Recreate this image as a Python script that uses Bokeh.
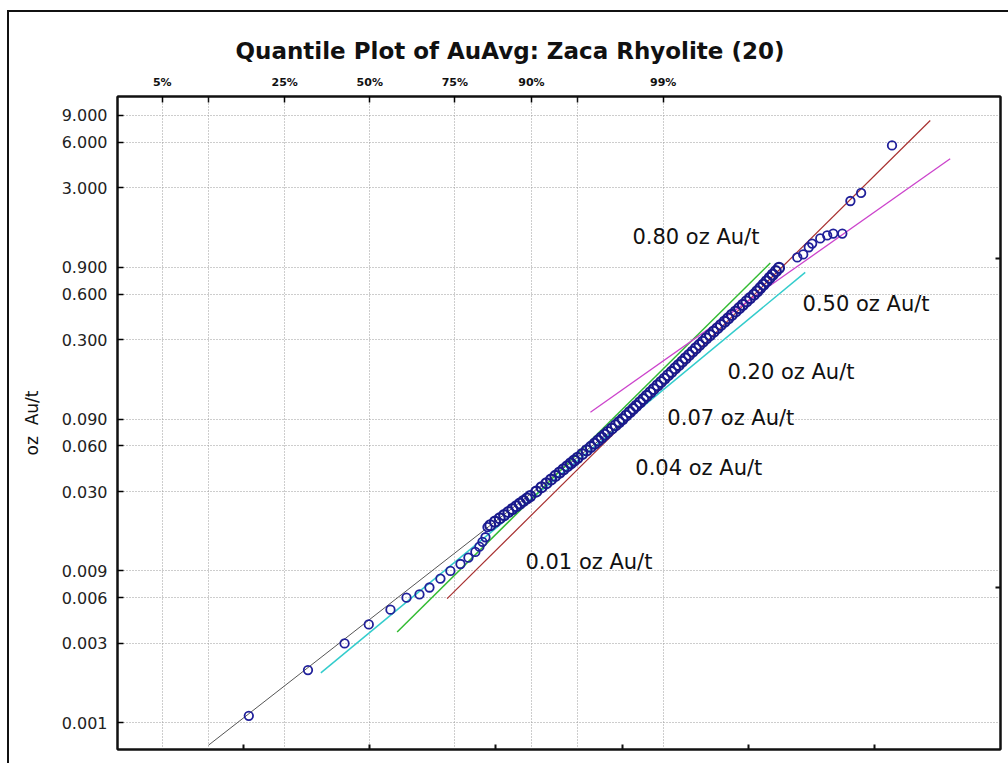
from bokeh.plotting import figure
from bokeh.models import LinearAxis, LogAxis, FixedTicker, Range1d, Title
from bokeh.embed import file_html
from bokeh.resources import INLINE
from bokeh.core.properties import value

title_text = "Quantile Plot of AuAvg: Zaca Rhyolite (20)"
y_label = "oz\u00a0\u00a0Au/t"

pct_z_lab = [-1.6449, -0.6745, 0.0, 0.6745, 1.2816, 2.3263]
pct_labels = ["5%", "25%", "50%", "75%", "90%", "99%"]
pct_z_unlab = [-1.2816, 1.6449]
pct_z_all = [-1.6449, -1.2816, -0.6745, 0.0, 0.6745, 1.2816, 1.6449, 2.3263]

y_ticks = [9, 6, 3, 0.9, 0.6, 0.3, 0.09, 0.06, 0.03, 0.009, 0.006, 0.003, 0.0009]
y_tick_labels = ["9.000", "6.000", "3.000", "0.900", "0.600", "0.300", "0.090",
                 "0.060", "0.030", "0.009", "0.006", "0.003", "0.001"]
bottom_ticks = [-1, 0, 1, 2, 3, 4]
right_ticks = [1.03, 0.0070]

# sample quantiles: normal score (z) and gold grade (oz Au/t)
low_z = [-0.959, -0.490, -0.200, -0.008, 0.164, 0.291, 0.394, 0.473, 0.560, 0.639,
         0.719, 0.782, 0.837, 0.869, 0.893, 0.917, 0.933]
low_au = [0.001, 0.002, 0.003, 0.004, 0.005, 0.006, 0.0063, 0.007, 0.008, 0.009,
          0.010, 0.011, 0.012, 0.013, 0.014, 0.015, 0.0175]
band_z = [0.955, 0.993, 1.030, 1.065, 1.099, 1.130, 1.161, 1.190, 1.218, 1.246, 1.272,
          1.320, 1.361, 1.400, 1.437, 1.471, 1.504, 1.535, 1.565, 1.593, 1.620, 1.647,
          1.684, 1.719, 1.752, 1.782, 1.810, 1.837, 1.863, 1.887, 1.919, 1.949, 1.977,
          2.004, 2.033, 2.061, 2.088, 2.113, 2.142, 2.169, 2.195, 2.224, 2.251, 2.281,
          2.309, 2.336, 2.364, 2.392, 2.420, 2.448, 2.476, 2.503, 2.531, 2.558, 2.585,
          2.613, 2.640, 2.667, 2.697, 2.726, 2.755, 2.783, 2.813, 2.841, 2.870, 2.900,
          2.928, 2.957, 2.986, 3.015, 3.045, 3.071, 3.096, 3.121, 3.145, 3.170, 3.194,
          3.219, 3.244]
band_au = [0.018, 0.019, 0.020, 0.021, 0.022, 0.023, 0.024, 0.025, 0.026, 0.027, 0.028,
           0.030, 0.032, 0.034, 0.036, 0.038, 0.040, 0.042, 0.044, 0.046, 0.048, 0.050,
           0.053, 0.056, 0.059, 0.062, 0.065, 0.068, 0.071, 0.074, 0.078, 0.082, 0.086,
           0.090, 0.095, 0.100, 0.105, 0.110, 0.116, 0.122, 0.128, 0.135, 0.142, 0.150,
           0.158, 0.166, 0.175, 0.184, 0.194, 0.204, 0.215, 0.226, 0.238, 0.250, 0.263,
           0.277, 0.291, 0.306, 0.322, 0.339, 0.357, 0.375, 0.395, 0.415, 0.437, 0.460,
           0.484, 0.509, 0.536, 0.564, 0.594, 0.625, 0.658, 0.692, 0.728, 0.766, 0.806,
           0.848, 0.892]
high_z = [3.389, 3.436, 3.480, 3.507, 3.571, 3.626, 3.674, 3.746, 3.81, 3.895, 4.14]
high_au = [1.046, 1.094, 1.22, 1.29, 1.394, 1.46, 1.50, 1.50, 2.46, 2.78, 5.71]

# fitted population lines (end points)
gray_z = [-1.278, 2.002]
gray_au = [0.000641, 0.0857]
red_z = [0.613, 4.443]
red_au = [0.00592, 8.34]
green_z = [0.217, 3.175]
green_au = [0.00357, 0.96]
cyan_z = [-0.388, 3.452]
cyan_au = [0.00192, 0.833]
mag_z = [1.749, 4.601]
mag_au = [0.1, 4.67]

ann_text = ["0.80 oz Au/t", "0.50 oz Au/t", "0.20 oz Au/t", "0.07 oz Au/t", "0.04 oz Au/t", "0.01 oz Au/t"]
ann_z = [2.082, 3.431, 2.836, 2.359, 2.105, 1.234]
ann_au = [1.416, 0.5128, 0.1829, 0.0911, 0.0427, 0.01027]

ink = "#111111"

frame_styles = {
    "background-color": "white",
    "background-image": "linear-gradient(#111111, #111111), linear-gradient(#111111, #111111)",
    "background-position": "7px 10px, 7px 10px",
    "background-size": "2px 100%, 100% 2px",
    "background-repeat": "no-repeat",
}

p = figure(width=1008, height=763, x_range=Range1d(-2, 5), y_range=Range1d(0.0006, 12),
           y_axis_type="log", output_backend="svg", toolbar_location=None,
           min_border_left=117, min_border_right=8, min_border_top=96, min_border_bottom=14,
           styles=frame_styles)
p.background_fill_color = "white"
p.border_fill_color = None
p.outline_line_color = ink
p.outline_line_width = 2

p.title = Title(text=title_text, align="left", offset=118, standoff=17,
                text_font="DejaVu Sans", text_font_style="bold", text_font_size="23px",
                text_color=ink)

grid_color = "#9a9a9a"
p.xgrid.ticker = FixedTicker(ticks=pct_z_all)
p.ygrid.ticker = FixedTicker(ticks=y_ticks)
for g in (p.xgrid[0], p.ygrid[0]):
    g.grid_line_color = grid_color
    g.grid_line_dash = "1 2"
    g.grid_line_width = 1

def tick_only(ax, minor):
    ax.ticker = FixedTicker(ticks=[], minor_ticks=minor)
    ax.major_label_text_font_size = "1px"
    ax.major_label_text_color = None
    ax.major_label_standoff = 0
    ax.major_tick_line_color = None
    ax.minor_tick_in = 5
    ax.minor_tick_out = 0
    ax.minor_tick_line_width = 2
    ax.minor_tick_line_color = ink
    ax.axis_line_width = 2
    ax.axis_line_color = ink

tick_only(p.xaxis[0], bottom_ticks)

ya = p.yaxis[0]
ya.ticker = FixedTicker(ticks=y_ticks)
ya.major_label_overrides = {t: s for t, s in zip(y_ticks, y_tick_labels)}
ya.major_label_text_font = "DejaVu Sans"
ya.major_label_text_font_size = "16px"
ya.major_label_text_color = "#222222"
ya.major_label_standoff = 10
ya.major_tick_in = 6
ya.major_tick_out = 0
ya.major_tick_line_width = 1.5
ya.minor_tick_line_color = None
ya.axis_line_width = 2
ya.axis_line_color = ink
ya.axis_label = y_label
ya.axis_label_text_font = "DejaVu Sans"
ya.axis_label_text_font_size = "17px"
ya.axis_label_text_font_style = "normal"
ya.axis_label_text_color = ink
ya.axis_label_standoff = 17

ta = LinearAxis(ticker=FixedTicker(ticks=pct_z_lab, minor_ticks=pct_z_unlab))
ta.major_label_overrides = {z: s for z, s in zip(pct_z_lab, pct_labels)}
ta.major_label_text_font = "DejaVu Sans"
ta.major_label_text_font_style = "bold"
ta.major_label_text_font_size = "11px"
ta.major_label_text_color = ink
ta.major_label_standoff = 8
ta.major_tick_in = 6
ta.major_tick_out = 0
ta.major_tick_line_width = 1.5
ta.minor_tick_in = 6
ta.minor_tick_out = 0
ta.minor_tick_line_width = 1.5
ta.minor_tick_line_color = ink
ta.axis_line_width = 2
ta.axis_line_color = ink
p.add_layout(ta, "above")

ra = LogAxis()
tick_only(ra, right_ticks)
p.add_layout(ra, "right")

p.line(gray_z, gray_au, line_color="#555555", line_width=1)
p.line(cyan_z, cyan_au, line_color="#33cccc", line_width=1.5)
p.line(green_z, green_au, line_color="#33bb33", line_width=1.5)
p.line(red_z, red_au, line_color="#a83030", line_width=1.2)
p.line(mag_z, mag_au, line_color="#cc44cc", line_width=1.3)

pt_style = dict(marker="circle", size=8.5, fill_color=None, line_color="#20209a", line_width=1.8)
p.scatter(low_z, low_au, **pt_style)
p.scatter(band_z, band_au, marker="circle", size=10, fill_color=None,
          line_color="#1a1a8c", line_width=2.2)
p.scatter(high_z, high_au, **pt_style)

p.text(ann_z, ann_au, text=ann_text, text_font=value("DejaVu Sans"), text_font_size="21px",
       text_baseline="middle", text_align="left", text_color=ink)

open("out.html", "w").write(file_html(p, INLINE))
